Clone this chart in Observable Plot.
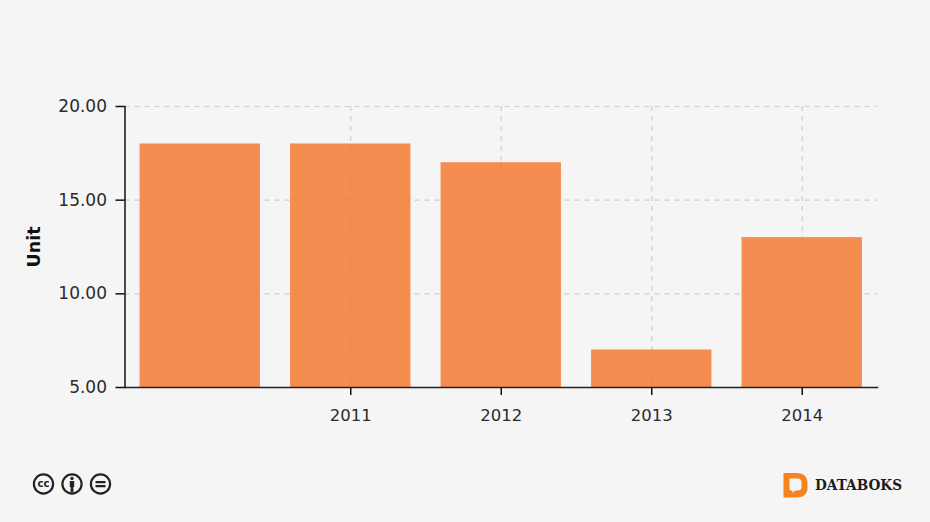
<!DOCTYPE html>
<html>
<head>
<meta charset="utf-8">
<script src="https://cdn.jsdelivr.net/npm/d3@7"></script>
<script src="https://cdn.jsdelivr.net/npm/@observablehq/plot@0.6"></script>
<style>
html,body{margin:0;padding:0;background:#f5f5f5;width:930px;height:522px;overflow:hidden;font-family:"DejaVu Sans",sans-serif;}
#chart{position:absolute;left:0;top:0;}
#chart svg{background:transparent;}
#cc{position:absolute;left:30px;top:470px;}
#brand{position:absolute;left:783px;top:472px;}
#brandText{position:absolute;left:815px;top:475px;font:bold 15.5px "DejaVu Serif",serif;color:#1c1c1c;line-height:20px;white-space:nowrap;transform:scaleX(.88);transform-origin:left center;}
</style>
</head>
<body>
<div id="chart"></div>
<svg id="cc" width="86" height="28" viewBox="0 0 86 28">
  <g fill="none" stroke="#222" stroke-width="2.2">
    <circle cx="13.5" cy="14" r="9.6"/>
    <circle cx="42" cy="14" r="9.6"/>
    <circle cx="70.5" cy="14" r="9.6"/>
  </g>
  <text x="13.5" y="17.4" text-anchor="middle" font-family="DejaVu Sans" font-weight="bold" font-size="10" fill="#222">cc</text>
  <circle cx="42" cy="8.4" r="1.7" fill="#222"/>
  <path d="M39.800 11h4.400v6h-.8v5.500h-2.800V17h-.8z" fill="#222"/>
  <path d="M65.500 11h10v2.300h-10zM65.500 15h10v2.300h-10z" fill="#222"/>
</svg>
<svg id="brand" width="25" height="27" viewBox="0 0 25 27">
  <path d="M0.500 1H14C20.500 1 24.500 5 24.500 11V16C24.500 21.500 20.500 25.500 14 25.500H0.500Z" fill="#f58420"/>
  <path d="M6.500 6.500H14.500C17 6.500 18.500 8 18.500 10.500V15C18.500 17.500 17 18.500 14.500 18.500H12L9.500 21V18.500H8C7 18.500 6.500 18 6.500 17Z" fill="#f5f5f5"/>
</svg>
<div id="brandText">DATABOKS</div>
<script>
const years = [2010, 2011, 2012, 2013, 2014];
const units = [18, 18, 17, 7, 13];
const tickYears = [2011, 2012, 2013, 2014];
const tickValues = [5, 10, 15, 20];
const rows = years.map((year, i) => ({year, unit: units[i]}));
const ink = "#2b2b2b";

const plot = Plot.plot({
  width: 930,
  height: 522,
  marginLeft: 124.5,
  marginRight: 53,
  marginTop: 106,
  marginBottom: 135,
  style: {background: "transparent", fontFamily: "'DejaVu Sans', sans-serif", fontSize: "16px", color: ink},
  x: {type: "band", domain: years, paddingInner: 0.2, paddingOuter: 0.1, align: 0.5, round: false},
  y: {domain: [5, 20]},
  marks: [
    Plot.gridY(tickValues, {stroke: "#cecece", strokeOpacity: 1, strokeWidth: 1.2, strokeDasharray: "5,5"}),
    Plot.gridX(tickYears, {stroke: "#cecece", strokeOpacity: 1, strokeWidth: 1.2, strokeDasharray: "5,5"}),
    Plot.barY(rows, {x: "year", y1: () => 5, y2: "unit", fill: "#f57a33", fillOpacity: 0.85}),
    Plot.frame({anchor: "left", stroke: "#111", strokeWidth: 1.5}),
    Plot.frame({anchor: "bottom", stroke: "#222", strokeWidth: 1.5}),
    Plot.axisY({ticks: tickValues, tickSize: 9, tickPadding: 9, tickFormat: d3.format(".2f"), label: null, stroke: "#111", strokeWidth: 1.5, strokeOpacity: 1, fill: ink, fontSize: 17}),
    Plot.axisY({ticks: [], label: "Unit", labelAnchor: "center", labelArrow: "none", labelOffset: 97, fontWeight: "bold", fontSize: 17.5, fill: "#111", tickSize: 0}),
    Plot.axisX({ticks: tickYears, tickSize: 8, tickPadding: 14, tickFormat: d3.format("d"), label: null, stroke: "#111", strokeWidth: 1.5, strokeOpacity: 1, fill: ink, fontSize: 16.5})
  ]
});
document.getElementById("chart").appendChild(plot);
</script>
</body>
</html>
